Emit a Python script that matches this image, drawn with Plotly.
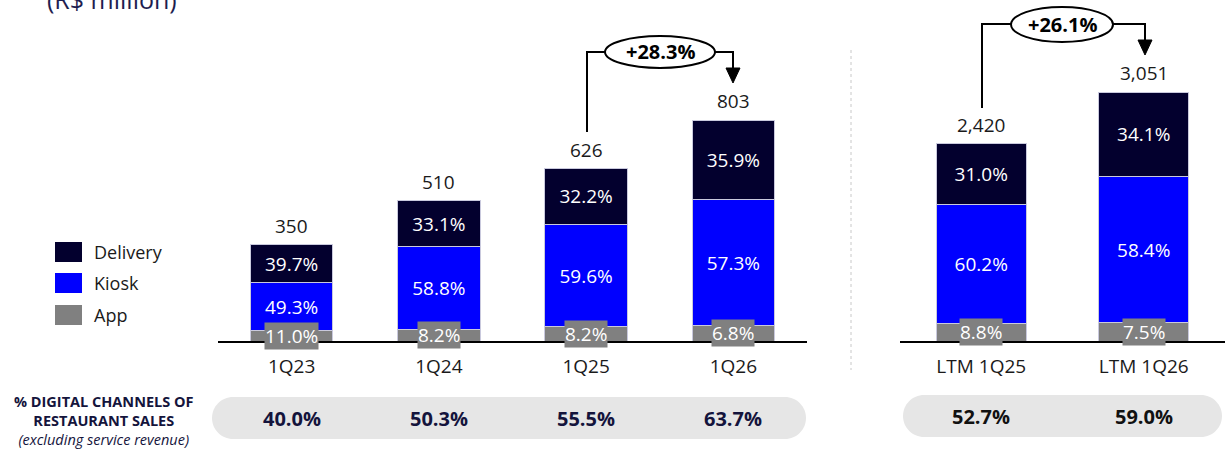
import plotly.graph_objects as go

# ---------------- data ----------------
quarters = ["1Q23", "1Q24", "1Q25", "1Q26"]
q_totals = [350, 510, 626, 803]
q_delivery_pct = [39.7, 33.1, 32.2, 35.9]
q_kiosk_pct = [49.3, 58.8, 59.6, 57.3]
q_app_pct = [11.0, 8.2, 8.2, 6.8]
q_digital_pct = [40.0, 50.3, 55.5, 63.7]

ltm = ["LTM 1Q25", "LTM 1Q26"]
l_totals = [2420, 3051]
l_delivery_pct = [31.0, 34.1]
l_kiosk_pct = [60.2, 58.4]
l_app_pct = [8.8, 7.5]
l_digital_pct = [52.7, 59.0]

growth_q = "+28.3%"
growth_ltm = "+26.1%"

series_names = ["App", "Kiosk", "Delivery"]
colors = {"Delivery": "#03002e", "Kiosk": "#0000ff", "App": "#808080"}

W, H = 1226, 450
FONT = "Open Sans"
TXT = "#1a1a1a"


def px(x):
    return x / W


def py(y):
    return 1 - y / H


fig = go.Figure()


def add_group(cats, totals, app, kiosk, deliv, xa, ya, width):
    segs = {
        "App": [t * p / 100 for t, p in zip(totals, app)],
        "Kiosk": [t * p / 100 for t, p in zip(totals, kiosk)],
        "Delivery": [t * p / 100 for t, p in zip(totals, deliv)],
    }
    pcts = {"App": app, "Kiosk": kiosk, "Delivery": deliv}
    for name in series_names:
        fig.add_trace(go.Bar(
            x=cats, y=segs[name], name=name, xaxis=xa, yaxis=ya,
            width=width,
            marker=dict(color=colors[name], line=dict(color="#c9c9dd", width=1)),
            text=["" if name == "App" else f"{p:.1f}%" for p in pcts[name]],
            textposition="inside", insidetextanchor="middle", textangle=0,
            constraintext="none",
            textfont=dict(color="white", size=19, family=FONT),
            showlegend=False, hoverinfo="skip",
        ))
    xref = "x" if xa == "x" else "x2"
    yref = "y" if ya == "y" else "y2"
    for c, t, a, v in zip(cats, totals, app, segs["App"]):
        # App label with grey box
        fig.add_annotation(x=c, y=v / 2, xref=xref, yref=yref, text=f"{a:.1f}%",
                           xanchor="center", yanchor="middle",
                           showarrow=False, bgcolor="#808080", borderpad=0,
                           font=dict(color="white", size=19, family=FONT))
        # total label
        fig.add_annotation(x=c, y=t, xref=xref, yref=yref, text=f"{t:,}",
                           xanchor="center", showarrow=False, yanchor="bottom", yshift=4,
                           font=dict(color=TXT, size=19, family=FONT))


add_group(quarters, q_totals, q_app_pct, q_kiosk_pct, q_delivery_pct, "x", "y", 0.56)
add_group(ltm, l_totals, l_app_pct, l_kiosk_pct, l_delivery_pct, "x2", "y2", 0.556)

base = 341
fig.update_layout(
    width=W, height=H, margin=dict(l=0, r=0, t=0, b=0),
    paper_bgcolor="white", plot_bgcolor="white",
    barmode="stack",
    font=dict(family=FONT, color=TXT),
    xaxis=dict(domain=[px(218), px(807)], range=[-0.5, 3.5], type="category",
               showline=True, linecolor="black", linewidth=2, showgrid=False,
               zeroline=False, ticks="", tickfont=dict(size=19, color=TXT),
               ticklabelstandoff=7, anchor="y", fixedrange=True),
    yaxis=dict(domain=[py(base), 1], range=[0, 341 / 0.2752], visible=False,
               showgrid=False, anchor="x"),
    xaxis2=dict(domain=[px(900), px(1225)], range=[-0.5, 1.5], type="category",
                showline=True, linecolor="black", linewidth=2, showgrid=False,
                zeroline=False, ticks="", tickfont=dict(size=19, color=TXT),
                ticklabelstandoff=7, anchor="y2"),
    yaxis2=dict(domain=[py(base), 1], range=[0, 341 / 0.08161], visible=False,
                showgrid=False, anchor="x2"),
)

shapes = []
annos = []

# title (partly cut off at the top, as in the reference)
annos.append(dict(x=px(112), y=py(-1), text="(R$ million)",
                  font=dict(size=25, color="#1e1e50", family=FONT)))

# legend
leg = [("Delivery", 242), ("Kiosk", 273), ("App", 305)]
for name, y0 in leg:
    shapes.append(dict(type="rect", xref="paper", yref="paper", x0=px(55), x1=px(82),
                       y0=py(y0), y1=py(y0 + 20), fillcolor=colors[name], line=dict(width=0)))
    annos.append(dict(x=px(92), y=py(y0 + 10), text=name, xanchor="left",
                      font=dict(size=18, color=TXT, family=FONT)))


def growth(xl, ytop, ybot_left, e0, e1, ey0, ey1, xr, tip, label):
    path = f"M {px(xl)},{py(ybot_left)} L {px(xl)},{py(ytop)} L {px(e0)},{py(ytop)}"
    shapes.append(dict(type="path", xref="paper", yref="paper", path=path,
                       line=dict(color="black", width=2)))
    path2 = f"M {px(e1)},{py(ytop)} L {px(xr)},{py(ytop)} L {px(xr)},{py(tip - 13)}"
    shapes.append(dict(type="path", xref="paper", yref="paper", path=path2,
                       line=dict(color="black", width=2)))
    tri = f"M {px(xr - 7)},{py(tip - 15)} L {px(xr + 7)},{py(tip - 15)} L {px(xr)},{py(tip)} Z"
    shapes.append(dict(type="path", xref="paper", yref="paper", path=tri,
                       fillcolor="black", line=dict(color="black", width=1)))
    shapes.append(dict(type="circle", xref="paper", yref="paper", x0=px(e0), x1=px(e1),
                       y0=py(ey0), y1=py(ey1), fillcolor="white",
                       line=dict(color="black", width=2)))
    annos.append(dict(x=px((e0 + e1) / 2), y=py((ey0 + ey1) / 2),
                      text=f"<b>{label}</b>",
                      font=dict(size=20, color="black", family=FONT)))


growth(587, 52, 132, 605, 715, 36, 68, 733, 83, growth_q)
growth(982, 24, 108, 1011, 1113, 7, 42, 1145, 55, growth_ltm)

# dotted separator
shapes.append(dict(type="line", xref="paper", yref="paper", x0=px(851), x1=px(851),
                   y0=py(50), y1=py(370), line=dict(color="#c8c8c8", width=1, dash="dot")))


def pill(x0, x1, y0, y1, color):
    r = (y1 - y0) / 2
    k = 0.5523 * r
    ym = (y0 + y1) / 2
    pts = [
        f"M {px(x0 + r)},{py(y0)}",
        f"L {px(x1 - r)},{py(y0)}",
        f"C {px(x1 - r + k)},{py(y0)} {px(x1)},{py(ym - k)} {px(x1)},{py(ym)}",
        f"C {px(x1)},{py(ym + k)} {px(x1 - r + k)},{py(y1)} {px(x1 - r)},{py(y1)}",
        f"L {px(x0 + r)},{py(y1)}",
        f"C {px(x0 + r - k)},{py(y1)} {px(x0)},{py(ym + k)} {px(x0)},{py(ym)}",
        f"C {px(x0)},{py(ym - k)} {px(x0 + r - k)},{py(y0)} {px(x0 + r)},{py(y0)} Z",
    ]
    shapes.append(dict(type="path", xref="paper", yref="paper", path=" ".join(pts),
                       fillcolor=color, line=dict(width=0), layer="below"))


pill(212, 806, 397, 439, "#e6e6e6")
pill(903, 1222, 395, 437, "#e6e6e6")

for c, v in zip(quarters, q_digital_pct):
    annos.append(dict(x=c, y=py(418), xref="x", text=f"<b>{v:.1f}%</b>",
                      font=dict(size=20, color="#14143c", family=FONT)))
for c, v in zip(ltm, l_digital_pct):
    annos.append(dict(x=c, y=py(416), xref="x2", text=f"<b>{v:.1f}%</b>",
                      font=dict(size=20, color="#111111", family=FONT)))

annos.append(dict(x=px(104), y=py(420),
                  text="<b>% DIGITAL CHANNELS OF<br>RESTAURANT SALES</b><br><i>(excluding service revenue)</i>",
                  align="center",
                  font=dict(size=14.5, color="#14143c", family=FONT)))

fig.update_layout(shapes=shapes)
for a in annos:
    d = dict(xref="paper", yref="paper", xanchor="center", yanchor="middle", showarrow=False)
    d.update(a)
    fig.add_annotation(**d)

fig.write_html("out.html", config={"displayModeBar": False},
               post_script="document.body.style.margin='0px';")
